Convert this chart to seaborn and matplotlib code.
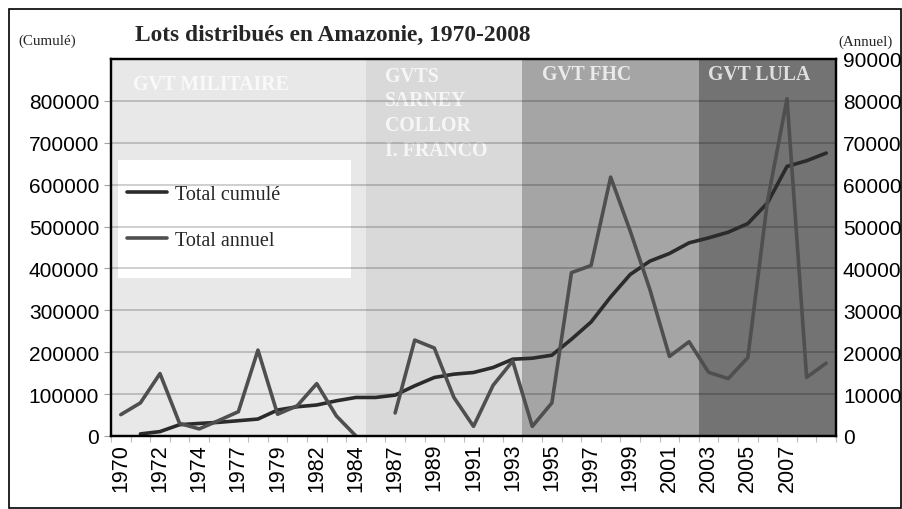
import numpy as np
import pandas as pd
import matplotlib
matplotlib.use("Agg")
import matplotlib.pyplot as plt
from matplotlib.patches import Rectangle
import seaborn as sns

# ---------------- data ----------------
years = [1970, 1971, 1972, 1973, 1974, 1976, 1977, 1978, 1979, 1981, 1982, 1983, 1984,
         1985, 1987, 1988, 1989, 1990, 1991, 1992, 1993, 1994, 1995, 1996, 1997, 1998,
         1999, 2000, 2001, 2002, 2003, 2004, 2005, 2006, 2007, 2008, 2009]
shown_labels = [1970, 1972, 1974, 1977, 1979, 1982, 1984, 1987, 1989, 1991, 1993,
                1995, 1997, 1999, 2001, 2003, 2005, 2007]

total_cumule = [np.nan, 5000, 10500, 27000, 30000, 32600, 36500, 40500, 62000, 69800,
                74000, 84000, 92000, 92000, 97600, 119800, 139700, 147600, 151600,
                163500, 183300, 185700, 192900, 231000, 272100, 332000, 385700, 417400,
                435700, 461100, 473000, 486500, 507100, 556300, 643600, 657100, 675400]
total_annuel = [5100, 7900, 14900, 3000, 1700, 3700, 5800, 20500, 5200, 7200, 12500,
                4800, 0, np.nan, 5500, 22900, 21000, 9200, 2300, 12100, 17900, 2300,
                7900, 39000, 40700, 61800, 48900, 35000, 19000, 22500, 15200, 13700,
                18700, 56000, 80500, 14000, 17400]

periods = ["GVT MILITAIRE", "GVTS\nSARNEY\nCOLLOR\nI. FRANCO", "GVT FHC", "GVT LULA"]
period_first = [1970, 1985, 1994, 2003]
period_last = [1984, 1993, 2002, 2009]
period_colors = ["#e8e8e8", "#d9d9d9", "#a5a5a5", "#737373"]

title = "Lots distribués en Amazonie, 1970-2008"
series_names = ["Total cumulé", "Total annuel"]

# ---------------- figure ----------------
sns.set_theme(style="white")
plt.rcParams["font.family"] = ["Liberation Sans", "DejaVu Sans"]

pos = np.arange(len(years))
df = pd.DataFrame({"pos": pos, "year": years,
                   "cumule": total_cumule, "annuel": total_annuel})
# segment ids so that gaps (missing values) are not bridged
df["seg_a"] = df["annuel"].isna().cumsum()
df["seg_c"] = df["cumule"].isna().cumsum()

fig = plt.figure(figsize=(9.02, 5.10), dpi=100)
W, H = 902, 510
ax = fig.add_axes([111 / W, 1 - 437 / H, (836 - 111) / W, (437 - 60) / H])
ax2 = ax.twinx()

# government periods shading
for name, a, b, c in zip(periods, period_first, period_last, period_colors):
    x0 = years.index(a) - 0.5
    x1 = years.index(b) + 0.5
    ax.axvspan(x0, x1, color=c, zorder=0, lw=0)

# zone labels
serif = ["Liberation Serif", "DejaVu Serif"]
trans = ax.get_xaxis_transform()
lab_off = [1.1, 1.0, 1.0, 0.45]
lab_y = [0.934, 0.982, 0.960, 0.960]
lab_va = ["center", "top", "center", "center"]
for name, a, off, yy, va in zip(periods, period_first, lab_off, lab_y, lab_va):
    ax.text(years.index(a) - 0.5 + off, yy, name, transform=trans, ha="left", va=va,
            color="white", alpha=0.78, fontsize=14.2, fontweight="bold",
            family=serif, linespacing=1.31, zorder=0.6)

# legend background box (under the gridlines as in the original)
ax.add_patch(Rectangle((0.0097, 0.419), 0.321, 0.313, transform=ax.transAxes,
                       facecolor="white", edgecolor="none", zorder=0.7))

# lines
sns.lineplot(data=df.dropna(subset=["cumule"]), x="pos", y="cumule", units="seg_c",
             estimator=None, ax=ax, color="#2b2b2b", lw=2.6, zorder=3, legend=False)
sns.lineplot(data=df.dropna(subset=["annuel"]), x="pos", y="annuel", units="seg_a",
             estimator=None, ax=ax2, color="#4f4f4f", lw=2.6, zorder=3, legend=False)

# axes limits and ticks
ax.set_xlim(-0.5, len(years) - 0.5)
ax.set_ylim(0, 900000)
ax2.set_ylim(0, 90000)
ax.set_yticks(np.arange(0, 800001, 100000))
ax.set_yticklabels([str(v) for v in range(0, 800001, 100000)])
ax2.set_yticks(np.arange(0, 90001, 10000))
ax2.set_yticklabels([str(v) for v in range(0, 90001, 10000)])

ax.set_xticks([years.index(y) for y in shown_labels])
ax.set_xticklabels([str(y) for y in shown_labels], rotation=90)
ax.set_xticks(np.arange(-0.5, len(years) + 0.5, 1), minor=True)
ax.tick_params(axis="x", which="major", length=0, pad=5, labelsize=15.5, colors="black")
ax.tick_params(axis="x", which="minor", length=4.5, width=0.8, color="#bdbdbd",
               direction="out", bottom=True)
ax.tick_params(axis="y", length=5, width=0.8, color="#a0a0a0", pad=3.5,
               labelsize=15, labelcolor="black", left=True)
ax2.tick_params(axis="y", length=0, pad=5, labelsize=15, labelcolor="black")

ax.set_xlabel("")
ax.set_ylabel("")
ax2.set_ylabel("")

# gridlines
ax.set_axisbelow(False)
ax.grid(axis="y", color="black", alpha=0.22, lw=1.2, zorder=1)
ax.grid(axis="x", visible=False)
for a in (ax, ax2):
    for s in a.spines.values():
        s.set_visible(True)
        s.set_color("black")
        s.set_linewidth(1.6)
        s.set_zorder(5)

# legend (drawn over the white box)
handles = [ax.lines[0], ax2.lines[0]]
leg = ax2.legend(handles, series_names, loc="upper left",
                 bbox_to_anchor=(0.022, 0.667),
                 frameon=False, prop={"family": serif, "size": 14.5},
                 handlelength=2.0, handletextpad=0.4, labelspacing=1.35,
                 borderaxespad=0.0, borderpad=0.0)

# titles
fig.text(135 / W, 1 - 35 / H, title, ha="left", va="center", fontsize=16.8,
         fontweight="bold", family=serif)
fig.text(18 / W, 1 - 41 / H, "(Cumulé)", ha="left", va="center", fontsize=10.8,
         family=serif)
fig.text(838 / W, 1 - 42 / H, "(Annuel)", ha="left", va="center", fontsize=10.8,
         family=serif)

# outer frame of the chart
fig.patches.append(Rectangle((9 / W, 0.001), (901 - 9) / W, 1 - 10 / H - 0.001,
                             transform=fig.transFigure, fill=False,
                             edgecolor="black", lw=1.2))

fig.savefig("out.png", dpi=100)
